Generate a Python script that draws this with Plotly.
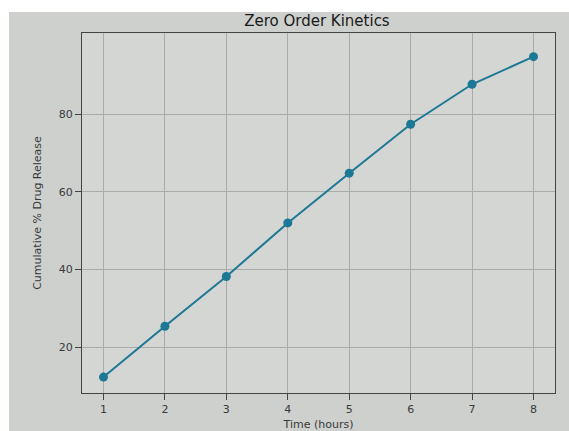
import plotly.graph_objects as go

time_hours = [1, 2, 3, 4, 5, 6, 7, 8]
cumulative_release = [12.3, 25.4, 38.2, 52.0, 64.8, 77.4, 87.7, 94.8]

x_ticks = [1, 2, 3, 4, 5, 6, 7, 8]
y_ticks = [20, 40, 60, 80]

line_color = "#1d7896"
fig = go.Figure()
fig.add_trace(go.Scatter(
    x=time_hours, y=cumulative_release, mode="lines+markers",
    line=dict(color=line_color, width=2),
    marker=dict(color=line_color, size=9),
    showlegend=False,
))

axis_common = dict(
    showgrid=True, gridcolor="#a9aba9", gridwidth=1,
    showline=True, linecolor="#444444", linewidth=1.3, mirror=True,
    ticks="outside", ticklen=6, tickcolor="#444444",
    tickfont=dict(family="DejaVu Sans", size=11, color="#3a3a3a"),
    zeroline=False, automargin=False,
)

# white border of the photo (top and left strips), in pixel-derived paper coords
L, R, T, B = 82, 555, 33, 393
def px(xp):
    return (xp - L) / (R - L)
def py(yp):
    return (B - yp) / (B - T)

fig.update_layout(
    width=569, height=431,
    margin=dict(l=L, r=569 - R, t=T, b=431 - B),
    paper_bgcolor="#cdd0cd",
    plot_bgcolor="#d3d6d3",
    title=dict(text="Zero Order Kinetics", x=0.557, xanchor="center", y=0.952, yanchor="middle",
               font=dict(family="DejaVu Sans", size=15, color="#1a1a1a")),
    xaxis=dict(axis_common, range=[0.65, 8.35], tickvals=x_ticks,
               title=dict(text="Time (hours)", standoff=6,
                          font=dict(family="DejaVu Sans", size=11, color="#3a3a3a"))),
    yaxis=dict(axis_common, range=[8.2, 100.9], tickvals=y_ticks,
               title=dict(text="Cumulative % Drug Release", standoff=14,
                          font=dict(family="DejaVu Sans", size=11, color="#3a3a3a"))),
    shapes=[
        dict(type="rect", xref="paper", yref="paper", x0=px(0), x1=px(569), y0=py(12), y1=py(0),
             fillcolor="white", line=dict(width=0), layer="below"),
        dict(type="rect", xref="paper", yref="paper", x0=px(0), x1=px(9), y0=py(431), y1=py(0),
             fillcolor="white", line=dict(width=0), layer="below"),
    ],
)

fig.write_html("out.html")
